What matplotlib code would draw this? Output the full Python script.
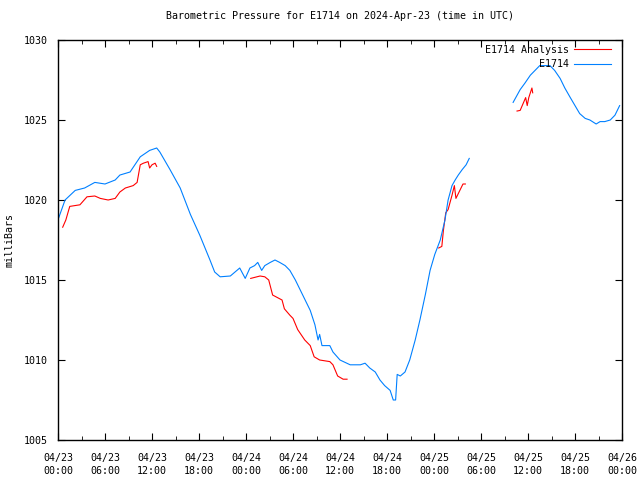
import numpy as np
import matplotlib
matplotlib.use('Agg')
import matplotlib.pyplot as plt
from matplotlib.ticker import MultipleLocator

plt.rcParams['font.family'] = 'DejaVu Sans Mono'
plt.rcParams['font.size'] = 7.2

# hours since 2024-04-23 00:00 UTC, NaN marks a gap in the record
obs_hours = [0.1, 0.9, 2.2, 3.4, 4.7, 6.0, 7.3, 7.9, 9.2, 10.5, 11.7, 12.6, 13.0,
             14.3, 15.6, 16.9, 18.1, 19.4, 20.0, 20.7, 22.0, 22.6, 23.2, 23.9,
             24.5, 25.1, 25.5, 26.0, 26.4, 27.1, 27.7, 28.3, 29.0, 29.6, 30.3,
             30.9, 32.2, 32.8, 33.2, 33.4, 33.7, 34.7, 35.1, 36.0, 37.3, 38.6,
             39.2, 39.8, 40.5, 41.1, 41.7, 42.4, 42.8, 43.1, 43.3, 43.7, 44.3,
             44.9, 45.6, 46.2, 46.9, 47.5, 48.1, 48.8, 49.4, 49.8, 50.3, 50.7,
             51.1, 51.6, 52.1, 52.5,
             np.nan,
             58.1, 59.0, 59.6, 60.3, 60.9, 61.5, 62.2, 62.8, 63.4, 64.1, 64.7,
             65.4, 66.0, 66.6, 67.3, 67.9, 68.7, 69.2, 69.8, 70.5, 71.1, 71.7]
obs_mbar = [1018.9, 1020.0, 1020.6, 1020.75, 1021.1, 1021.0, 1021.25, 1021.56,
            1021.75, 1022.7, 1023.1, 1023.25, 1023.0, 1021.9, 1020.75, 1019.1,
            1017.8, 1016.25, 1015.5, 1015.2, 1015.25, 1015.5, 1015.75, 1015.1,
            1015.75, 1015.9, 1016.1, 1015.6, 1015.9, 1016.1, 1016.25, 1016.1,
            1015.9, 1015.6, 1015.0, 1014.4, 1013.1, 1012.2, 1011.25, 1011.6,
            1010.9, 1010.9, 1010.5, 1010.0, 1009.7, 1009.7, 1009.8, 1009.5,
            1009.25, 1008.75, 1008.4, 1008.1, 1007.5, 1007.5, 1009.1, 1009.0,
            1009.25, 1010.0, 1011.25, 1012.5, 1014.1, 1015.6, 1016.6, 1017.5,
            1018.75, 1020.0, 1020.9, 1021.25, 1021.56, 1021.9, 1022.2, 1022.6,
            np.nan,
            1026.1, 1026.9, 1027.3, 1027.8, 1028.1, 1028.4, 1028.4, 1028.4,
            1028.1, 1027.6, 1027.0, 1026.4, 1025.9, 1025.4, 1025.1, 1025.0,
            1024.75, 1024.9, 1024.9, 1025.0, 1025.3, 1025.9]

ana_hours = [0.6, 1.0, 1.5, 2.8, 3.7, 4.7, 5.4, 6.4, 7.3, 7.9, 8.6, 9.6, 10.1,
             10.5, 10.9, 11.5, 11.7, 12.0, 12.4, 12.6,
             np.nan,
             24.6, 25.8, 26.4, 26.9, 27.4, 28.6, 28.9, 29.6, 30.0, 30.6, 31.5,
             32.2, 32.7, 33.4, 34.7, 35.1, 35.7, 36.4, 36.9,
             np.nan,
             48.6, 49.0, 49.2, 49.5, 49.8, 50.3, 50.6, 50.8, 51.1, 51.7, 52.0,
             np.nan,
             58.6, 59.0, 59.7, 59.9, 60.1, 60.5, 60.6]
ana_mbar = [1018.3, 1018.75, 1019.6, 1019.7, 1020.2, 1020.25, 1020.1, 1020.0,
            1020.1, 1020.5, 1020.75, 1020.9, 1021.1, 1022.2, 1022.3, 1022.4,
            1022.0, 1022.2, 1022.3, 1022.1,
            np.nan,
            1015.1, 1015.25, 1015.2, 1015.0, 1014.06, 1013.75, 1013.2, 1012.8,
            1012.6, 1011.9, 1011.25, 1010.9, 1010.2, 1010.0, 1009.9, 1009.7,
            1009.0, 1008.8, 1008.8,
            np.nan,
            1017.0, 1017.1, 1018.1, 1019.2, 1019.4, 1020.3, 1020.9, 1020.1,
            1020.4, 1021.0, 1021.0,
            np.nan,
            1025.56, 1025.6, 1026.4, 1025.9, 1026.4, 1027.0, 1026.7]

tick_hours = list(range(0, 73, 6))
tick_labels = ['04/23\n00:00', '04/23\n06:00', '04/23\n12:00', '04/23\n18:00',
               '04/24\n00:00', '04/24\n06:00', '04/24\n12:00', '04/24\n18:00',
               '04/25\n00:00', '04/25\n06:00', '04/25\n12:00', '04/25\n18:00',
               '04/26\n00:00']

fig = plt.figure(figsize=(6.4, 4.8), dpi=100)
ax = fig.add_axes([58/640, 40/480, 564/640, 400/480])

ax.plot(ana_hours, ana_mbar, color='#ff0000', lw=0.8, label='E1714 Analysis')
ax.plot(obs_hours, obs_mbar, color='#0080ff', lw=0.8, label='E1714')

ax.set_xlim(0, 72)
ax.set_ylim(1005, 1030)
ax.set_xticks(tick_hours)
ax.set_xticklabels(tick_labels, linespacing=1.5)
ax.xaxis.set_minor_locator(MultipleLocator(3))
ax.set_yticks(range(1005, 1031, 5))
ax.tick_params(which='both', direction='in', top=True, right=True)
ax.tick_params(axis='x', pad=9)
ax.tick_params(axis='y', pad=7)
ax.tick_params(which='major', length=5)
ax.tick_params(which='minor', length=3)
for s in ax.spines.values():
    s.set_linewidth(1)

ax.set_ylabel('milliBars', labelpad=7)
ax.set_title('Barometric Pressure for E1714 on 2024-Apr-23 (time in UTC)',
             fontsize=7.2, pad=15)
ax.legend(loc='upper right', frameon=False, markerfirst=False, handlelength=3.7,
          borderaxespad=0.4, borderpad=0.1, labelspacing=0.45, handletextpad=0.5,
          bbox_to_anchor=(0.99, 1.0))

fig.savefig('out.png', dpi=100)
